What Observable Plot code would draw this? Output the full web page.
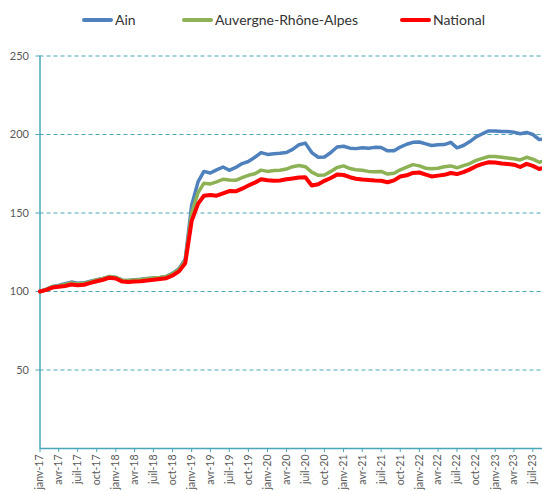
<!DOCTYPE html>
<html>
<head>
<meta charset="utf-8">
<script src="https://cdn.jsdelivr.net/npm/d3@7"></script>
<script src="https://cdn.jsdelivr.net/npm/@observablehq/plot@0.6"></script>
<style>
  html, body { margin: 0; padding: 0; background: #fff; }
  body { width: 542px; height: 491px; overflow: hidden; font-family: Lato, "Open Sans", sans-serif; }
  #legend { position: relative; height: 40px; width: 542px; }
  .item { position: absolute; top: 11px; display: flex; align-items: center; font-size: 14px; color: #333; white-space: nowrap; }
  .swatch { display: inline-block; width: 31px; height: 4px; border-radius: 2px; margin-right: 2px; }
</style>
</head>
<body>
<div id="legend"></div>
<div id="chart"></div>
<script>
// Series names and colours
const seriesNames = ["Ain", "Auvergne-Rhône-Alpes", "National"];
const seriesColors = ["#4F81BD", "#8DB255", "#FF0000"];

// Monthly index values, janv-17 .. sept-23
const ain = [
  100, 101.5, 103.2, 103.8, 105, 106, 105.2, 105.5, 106.6, 107.5, 108.3, 109.5,
  109, 107.2, 107, 107.5, 107.8, 108.3, 108.6, 109, 109.6, 111.5, 114.5, 120.5,
  155, 170, 176.5, 175.5, 177.5, 179.3, 177.2, 179, 181.5, 182.8, 185.5, 188.5,
  187.3, 187.8, 188, 188.5, 190.5, 193.5, 194.5, 188.5, 185.5, 185.7, 188.5, 192,
  192.5, 191.3, 191, 191.5, 191.2, 191.8, 191.7, 189.6, 189.6, 192, 193.8, 195,
  195.2, 194, 193, 193.5, 193.6, 195, 191.5, 193, 195.5, 198.5, 200.5, 202.3,
  202.3, 201.9, 201.9, 201.5, 200.5, 201.3, 200, 196.8, 197.3
];
const ara = [
  100, 101.3, 103, 103.5, 104.5, 105.5, 104.8, 105.2, 106.3, 107.3, 108.3, 109.5,
  109, 107.2, 107, 107.3, 107.6, 108.2, 108.6, 109, 109.5, 111.3, 114, 119.5,
  150, 163, 169, 168.5, 169.8, 171.5, 171, 170.8, 172.5, 174, 175, 177.3,
  176.5, 177, 177.2, 178, 179.5, 180.3, 179.5, 176, 174, 174.2, 176.5, 179,
  180, 178.3, 177.5, 177.2, 176.5, 176.2, 176.5, 174.8, 175.3, 177.5, 179.2, 180.8,
  180, 178.5, 178.2, 178.5, 179.5, 180, 178.8, 180.2, 181.5, 183.5, 184.8, 186,
  186, 185.5, 185, 184.5, 183.8, 185.5, 184.3, 182.3, 183.4
];
const national = [
  100, 101, 102.5, 103, 103.5, 104.5, 104, 104.3, 105.5, 106.5, 107.5, 108.8,
  108.3, 106.3, 106, 106.3, 106.5, 107, 107.5, 108, 108.5, 110.2, 112.8, 118,
  145, 156, 161, 161.5, 161, 162.5, 164, 163.8, 165.5, 167.5, 169.3, 171.5,
  170.8, 170.5, 170.7, 171.5, 172, 172.6, 172.8, 167.5, 168.3, 170.5, 172.3, 174.5,
  174.2, 172.8, 171.8, 171.3, 171, 170.7, 170.5, 169.6, 170.8, 173.2, 174, 175.5,
  175.8, 174.5, 173.3, 173.8, 174.3, 175.5, 174.8, 176, 177.8, 179.8, 181.3, 182.3,
  182.2, 181.5, 181.2, 180.8, 179.3, 181.3, 180, 178, 179.2
];

// Axis tick values / labels
const yTicks = [50, 100, 150, 200, 250];
const monthLabels = ["janv", "avr", "juil", "oct"];

const start = new Date(Date.UTC(2017, 0, 1));
const dates = d3.utcMonth.range(start, d3.utcMonth.offset(start, ain.length));
const xTicks = d3.utcMonth.range(start, new Date(Date.UTC(2023, 7, 1)), 3);

const allSeries = [ain, ara, national];
const rows = allSeries.flatMap((vals, i) =>
  vals.map((v, j) => ({ date: dates[j], value: v, series: seriesNames[i] }))
);

// Legend
const legendPos = [82, 182, 400];
const legend = document.getElementById("legend");
seriesNames.forEach((name, i) => {
  const it = document.createElement("div");
  it.className = "item";
  it.style.left = legendPos[i] + "px";
  it.innerHTML = `<span class="swatch" style="background:${seriesColors[i]}"></span><span>${name}</span>`;
  legend.appendChild(it);
});

const teal = "#4AA6B8";
const fontFam = "Lato, 'Open Sans', sans-serif";

const chart = Plot.plot({
  width: 542,
  height: 451,
  marginLeft: 39.5,
  marginRight: 0,
  marginTop: 15.5,
  marginBottom: 43,
  style: { fontFamily: fontFam, background: "white", overflow: "hidden" },
  x: { type: "utc", domain: [start, dates[dates.length - 1]], range: [39.5, 545.2] },
  y: { domain: [0, 250] },
  marks: [
    Plot.ruleY(yTicks, { stroke: teal, strokeWidth: 1, strokeDasharray: "4,3" }),
    Plot.ruleY([0], { stroke: teal, strokeWidth: 1.5 }),
    Plot.ruleX([start], { y1: 0, y2: 250, stroke: teal, strokeWidth: 1.5 }),
    Plot.axisY({
      ticks: yTicks, tickSize: 4, tickPadding: 7, stroke: teal, strokeOpacity: 1,
      fill: "#595959", fontSize: 11, label: null
    }),
    Plot.axisX({
      ticks: xTicks, tickSize: 4, tickPadding: 2, tickRotate: -90,
      tickFormat: d => `${monthLabels[Math.floor(d.getUTCMonth() / 3)]}-${String(d.getUTCFullYear()).slice(2)}`,
      stroke: teal, strokeOpacity: 1, fill: "#595959", fontSize: 10.5, label: null
    }),
    Plot.lineY(rows.filter(d => d.series === seriesNames[0]), { x: "date", y: "value", stroke: seriesColors[0], strokeWidth: 3.5 }),
    Plot.lineY(rows.filter(d => d.series === seriesNames[1]), { x: "date", y: "value", stroke: seriesColors[1], strokeWidth: 3.5 }),
    Plot.lineY(rows.filter(d => d.series === seriesNames[2]), { x: "date", y: "value", stroke: seriesColors[2], strokeWidth: 4 })
  ]
});
document.getElementById("chart").appendChild(chart);
</script>
</body>
</html>
